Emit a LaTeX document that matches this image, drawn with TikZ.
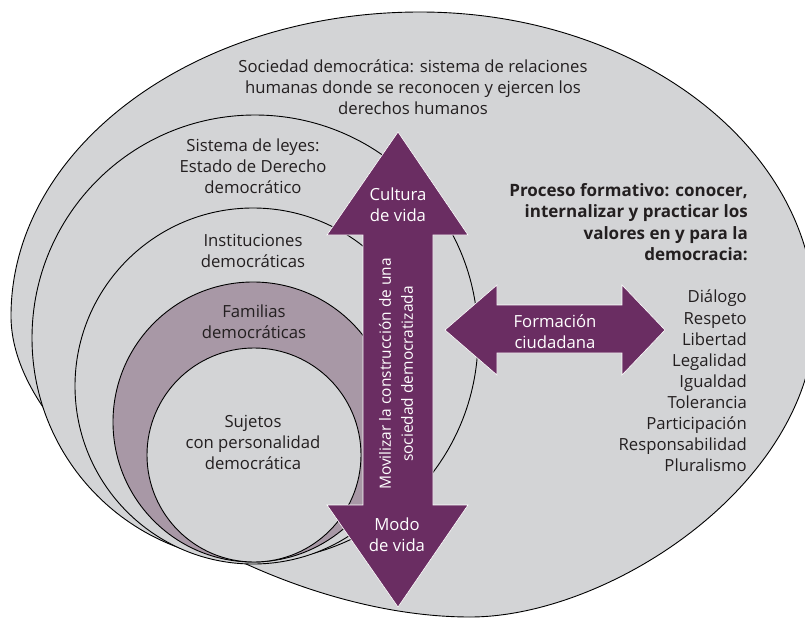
\documentclass[tikz,border=0pt]{standalone}
\usepackage{fontspec}
\setmainfont{Open Sans}
\definecolor{bg}{HTML}{D3D4D6}
\definecolor{fam}{HTML}{A898A6}
\definecolor{arr}{HTML}{6A2D62}
\definecolor{txt}{HTML}{231F20}
\begin{document}
\begin{tikzpicture}[x=1pt,y=-1pt,
  ring/.style={draw=black, line width=0.9pt, circle, inner sep=0pt},
  lbl/.style={align=center, font=\fontsize{16.7}{21}\selectfont, text=txt, inner sep=0pt},
  wlbl/.style={lbl, text=white},
  rlbl/.style={lbl, align=right},
  arrowshape/.style={fill=arr, draw=white, line width=0.6pt, line join=miter}]
\useasboundingbox (0,0) rectangle (805,618);
\begin{scope}
\clip (0,0) rectangle (805,618);
\draw[line width=0.9pt, fill=bg]
  (11,316) .. controls (11,148) and (194,12) .. (420,12)
  .. controls (638,12) and (815,148) .. (815,316)
  .. controls (815,483) and (610,617) .. (470,617)
  .. controls (265,617) and (11,456) .. (11,316) -- cycle;
\end{scope}
% nested circles
\node[ring, fill=bg, minimum size=446pt] (sistema) at (255,338) {};
\node[ring, fill=bg, minimum size=356pt] (inst) at (253,386) {};
\node[ring, fill=fam, minimum size=280pt] (fam) at (253,422) {};
\node[ring, fill=bg, minimum size=214pt] (suj) at (254,455) {};
% vertical double arrow
\draw[arrowshape] (398,132) -- (468,235) -- (433,235) -- (433,505) -- (468,505)
  -- (398,607) -- (327,505) -- (363,505) -- (363,235) -- (327,235) -- cycle;
% horizontal double arrow
\draw[arrowshape] (445,330) -- (497,285) -- (497,305) -- (622,305) -- (622,285)
  -- (665,330) -- (622,375) -- (622,353) -- (497,353) -- (497,375) -- cycle;
% texts
\node[lbl] (tsoc) at (413,87) {Sociedad democrática: sistema de relaciones\\humanas donde se reconocen y ejercen los\\derechos humanos};
\node[lbl] (tsis) at (253,166) {Sistema de leyes:\\Estado de Derecho\\democrático};
\node[lbl] (tins) at (253,251) {Instituciones\\democráticas};
\node[lbl] (tfam) at (254,322) {Familias\\democráticas};
\node[lbl] (tsuj) at (253,442) {Sujetos\\con personalidad\\democrática};
\node[wlbl] (tcul) at (398,205) {Cultura\\de vida};
\node[wlbl] (tmod) at (397,535) {Modo\\de vida};
\node[wlbl, rotate=90, font=\fontsize{15.5}{22}\selectfont] (tmov) at (396,374) {Movilizar la construcción de una\\sociedad democratizada};
\node[wlbl] (tfor) at (555,332) {Formación\\ciudadana};
\node[rlbl, font=\fontsize{17}{21.5}\selectfont\bfseries, anchor=east] (tpro) at (748,222) {Proceso formativo: conocer,\\internalizar y practicar los\\valores en y para la\\democracia:};
\node[rlbl, font=\fontsize{16.7}{21.1}\selectfont, anchor=east] (tval) at (747,381) {Diálogo\\Respeto\\Libertad\\Legalidad\\Igualdad\\Tolerancia\\Participación\\Responsabilidad\\Pluralismo};
\end{tikzpicture}
\end{document}
